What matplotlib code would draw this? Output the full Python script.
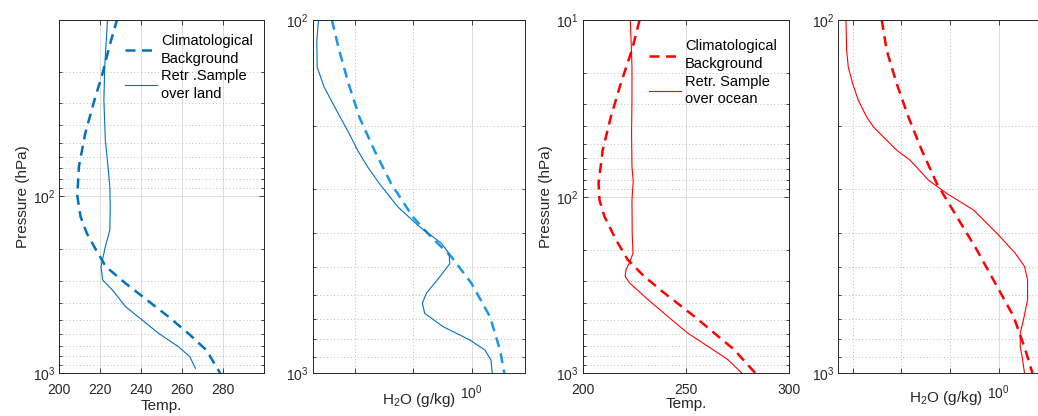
import matplotlib
matplotlib.use("Agg")
import matplotlib.pyplot as plt
from matplotlib.ticker import FixedLocator, NullFormatter, LogFormatterSciNotation

plt.rcParams['font.family'] = ['Liberation Sans', 'DejaVu Sans']
plt.rcParams['mathtext.fontset'] = 'custom'
plt.rcParams['mathtext.rm'] = 'Liberation Sans'
plt.rcParams['mathtext.it'] = 'Liberation Sans:italic'
plt.rcParams['mathtext.default'] = 'regular'
plt.rcParams['font.size'] = 10

# --- land: temperature (K) ---
land_bg_p = [10, 13.8, 20.3, 28.8, 44.3, 68.3, 100, 130.8, 162.5, 201.8, 250.4,
             310.8, 385.7, 478.7, 594, 737.6, 1000]
land_bg_t = [228.4, 224.9, 221.2, 217.2, 212.7, 209.6, 208.8, 210.4, 213.5, 218.0,
             222.8, 232.4, 242.9, 253.3, 263.0, 271.8, 278.7]
land_ret_p = [10, 18.7, 28.8, 48.3, 68.3, 88.6, 114.9, 155.4, 193.1, 250.4, 297.7,
              338.8, 420.4, 500, 594, 706, 804, 936]
land_ret_t = [223.6, 222.2, 221.8, 222.5, 223.8, 224.7, 224.9, 224.7, 222.5, 220.4,
              221.2, 226.0, 232.4, 240.5, 248.5, 258.2, 263.8, 266.5]

# --- land: water vapour (g/kg) ---
land_bg_qp = [100, 122.1, 151.7, 188.4, 233.9, 290.5, 360.9, 402.3, 467.9, 556.3,
              691.1, 858.6, 1000]
land_bg_q = [0.00401, 0.00537, 0.00778, 0.01189, 0.02153, 0.04178, 0.0986, 0.1791,
             0.4519, 1.0, 2.070, 3.083, 3.656]
land_ret_qp = [100, 114.4, 136.0, 154.9, 180.3, 209.8, 233.9, 260.6, 290.5, 338.0,
               384.6, 428.3, 458.0, 489.4, 532.8, 593.3, 632.6, 675.4, 737.0, 804.2,
               858.6, 916.3, 1000]
land_ret_q = [0.002366, 0.002213, 0.002244, 0.002958, 0.004831, 0.00798, 0.01112,
              0.01652, 0.0263, 0.05445, 0.1285, 0.3041, 0.4121, 0.4227, 0.2844, 0.1675,
              0.1429, 0.1567, 0.3243, 0.9354, 1.698, 2.153, 2.270]

# --- ocean: temperature (K) ---
ocean_bg_p = [10, 14.77, 22.79, 35.17, 54.27, 83.7, 104.0, 129.1, 174.9, 227.0,
              282.0, 350.0, 474.0, 589.0, 731.6, 1000]
ocean_bg_t = [227.6, 223.9, 218.5, 213.7, 209.7, 207.7, 208.1, 210.5, 216.1, 221.8,
              229.8, 239.5, 254.0, 263.7, 273.4, 283.9]
ocean_ret_p = [10, 18.35, 28.3, 43.7, 67.4, 82.0, 104.0, 160.5, 208.8, 237.6, 258.2,
               282.0, 306.5, 380.6, 474.0, 589.0, 699.2, 830.6, 1000]
ocean_ret_t = [223.1, 223.9, 223.9, 223.7, 223.9, 224.5, 223.9, 224.0, 224.4, 222.6,
               221.0, 220.6, 222.6, 231.5, 241.1, 250.8, 260.5, 270.2, 277.4]

# --- ocean: water vapour (g/kg) ---
ocean_bg_qp = [100, 122.0, 151.5, 188.1, 233.6, 290.0, 360.1, 447.1, 555.2, 689.0,
               855.6, 1000]
ocean_bg_q = [0.003936, 0.004989, 0.008017, 0.01393, 0.02624, 0.05358, 0.1384, 0.3573,
              0.8531, 2.037, 3.548, 5.023]
ocean_ret_qp = [100, 122.0, 136.0, 151.5, 168.8, 188.1, 200.7, 218.9, 233.6, 249.2,
                283.8, 309.5, 344.8, 401.2, 456.9, 498.2, 543.3, 618.6, 704.2, 767.9,
                837.3, 912.9, 1000]
ocean_ret_q = [0.000723, 0.000746, 0.000807, 0.000993, 0.001298, 0.001928, 0.002648,
               0.004989, 0.008017, 0.0151, 0.03606, 0.0861, 0.3055, 0.9247, 2.208,
               3.436, 3.963, 3.963, 3.273, 2.799, 2.799, 3.126, 3.436]

BLUE = '#0072BD'
LBLUE = '#1a96ea'
RED = '#ff0000'
AXC = '#262626'
DASH = (0, (4, 2.6))

fig = plt.figure(figsize=(10.38, 4.16), dpi=100)
bottom, height = 0.1022, 0.8498
ax1 = fig.add_axes([0.0571, bottom, 0.1972, height])
ax2 = fig.add_axes([0.3015, bottom, 0.2047, height])
ax3 = fig.add_axes([0.5614, bottom, 0.1985, height])
ax4 = fig.add_axes([0.8076, bottom, 0.2071, height])

minor_p = [20, 30, 40, 50, 60, 70, 80, 90, 200, 300, 400, 500, 600, 700, 800, 900]


def style(ax, ymaj):
    ax.set_yscale('log')
    ax.yaxis.set_major_locator(FixedLocator(ymaj))
    ax.yaxis.set_minor_locator(FixedLocator(minor_p))
    ax.yaxis.set_major_formatter(LogFormatterSciNotation())
    ax.yaxis.set_minor_formatter(NullFormatter())
    ax.tick_params(which='both', direction='in', top=True, right=True,
                   color=AXC, labelcolor=AXC, width=0.6)
    ax.tick_params(which='major', length=3.5)
    ax.tick_params(which='minor', length=2)
    ax.tick_params(axis='x', pad=7)
    ax.tick_params(axis='y', pad=3)
    for s in ax.spines.values():
        s.set_color(AXC)
        s.set_linewidth(0.7)
    ax.grid(True, which='major', color='#dcdcdc', linewidth=0.7, linestyle='-')
    ax.grid(True, which='minor', axis='y', color='#bdbdbd', linewidth=0.7,
            linestyle=(0, (1, 2.5)))
    ax.set_axisbelow(True)


def style_q(ax):
    ax.set_xscale('log')
    ax.xaxis.set_major_locator(FixedLocator([1]))
    ax.xaxis.set_minor_locator(FixedLocator([1e-3, 1e-2, 1e-1, 10]))
    ax.xaxis.set_major_formatter(LogFormatterSciNotation())
    ax.xaxis.set_minor_formatter(NullFormatter())
    ax.tick_params(axis='x', which='minor', length=3.5)
    ax.grid(True, which='minor', axis='x', color='#bdbdbd', linewidth=0.7,
            linestyle=(0, (1, 2.5)))


def legend(ax, y):
    leg = ax.legend(loc='upper left', bbox_to_anchor=(0.32, y), frameon=False,
                    borderpad=0, borderaxespad=0, handlelength=2.2,
                    handletextpad=0.3, labelspacing=0.25, fontsize=10.5)
    for t in leg.get_texts():
        t.set_linespacing(1.32)


# panel 1: land temperature
style(ax1, [10, 100, 1000])
ax1.plot(land_bg_t, land_bg_p, color=BLUE, linestyle=DASH, linewidth=1.8,
         label='Climatological\nBackground')
ax1.plot(land_ret_t, land_ret_p, color=BLUE, linewidth=0.8,
         label='Retr .Sample\nover land')
ax1.set_xlim(200, 300)
ax1.set_xticks([200, 220, 240, 260, 280])
ax1.set_ylim(1000, 10.2)
ax1.set_xlabel('Temp.', color=AXC, labelpad=1, fontsize=11)
ax1.set_ylabel('Pressure (hPa)', color=AXC, labelpad=2, fontsize=11)
legend(ax1, 0.96)

# panel 2: land water vapour
style(ax2, [100, 1000])
style_q(ax2)
ax2.plot(land_bg_q, land_bg_qp, color=LBLUE, linestyle=DASH, linewidth=1.8)
ax2.plot(land_ret_q, land_ret_qp, color=BLUE, linewidth=0.8)
ax2.set_xlim(0.0019, 8.4)
ax2.set_ylim(1000, 100)
ax2.set_xlabel('H$_2$O (g/kg)', color=AXC, labelpad=-8, fontsize=11)

# panel 3: ocean temperature
style(ax3, [10, 100, 1000])
ax3.plot(ocean_bg_t, ocean_bg_p, color=RED, linestyle=DASH, linewidth=1.8,
         label='Climatological\nBackground')
ax3.plot(ocean_ret_t, ocean_ret_p, color=RED, linewidth=0.8,
         label='Retr. Sample\nover ocean')
ax3.set_xlim(200, 300)
ax3.set_xticks([200, 250, 300])
ax3.set_ylim(1000, 10)
ax3.set_xlabel('Temp.', color=AXC, labelpad=0, fontsize=11)
ax3.set_ylabel('Pressure (hPa)', color=AXC, labelpad=2, fontsize=11)
legend(ax3, 0.945)

# panel 4: ocean water vapour
style(ax4, [100, 1000])
style_q(ax4)
ax4.plot(ocean_bg_q, ocean_bg_qp, color=RED, linestyle=DASH, linewidth=1.8)
ax4.plot(ocean_ret_q, ocean_ret_qp, color=RED, linewidth=0.8)
ax4.set_xlim(0.000502, 13.4)
ax4.set_ylim(1000, 100)
ax4.set_xlabel('H$_2$O (g/kg)', color=AXC, labelpad=-9, fontsize=11)

fig.savefig('out.png', dpi=100)
